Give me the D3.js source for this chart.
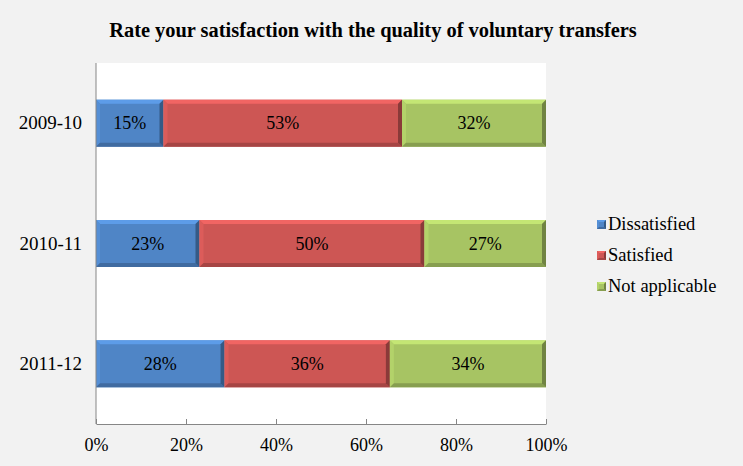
<!DOCTYPE html>
<html lang="en">
<head>
  <meta charset="UTF-8">
  <title>Voluntary transfers</title>
  <script src="https://cdn.jsdelivr.net/npm/d3@7"></script>
  <style>
    body { margin: 0; background: #f2f2f2; }
  </style>
</head>
<body>
  <div id="chart"></div>

  <script>
    const years = ['2009-10', '2010-11', '2011-12'];
    const series = ['Dissatisfied', 'Satisfied', 'Not applicable'];
    const dissatisfied = [15, 23, 28];
    const satisfied = [53, 50, 36];
    const notApplicable = [32, 27, 34];
    const xTicks = [0, 0.2, 0.4, 0.6, 0.8, 1];

    const width = 743,
      height = 466;
    const serif = '"Liberation Serif", "Times New Roman", serif';

    const colors = ['#4f85c6', '#cd5654', '#a7c463'];

    const rows = years.map((y, i) => ({
      year: y,
      'Dissatisfied': dissatisfied[i],
      'Satisfied': satisfied[i],
      'Not applicable': notApplicable[i]
    }));

    const stacked = d3.stack()
      .keys(series)
      .offset(d3.stackOffsetExpand)(rows);

    const svg = d3.select('#chart')
      .append('svg')
        .attr('width', width)
        .attr('height', height)
        .attr('font-family', serif);

    svg.append('rect')
      .attr('width', width)
      .attr('height', height)
      .attr('fill', '#f2f2f2');

    const x = d3.scaleLinear().domain([0, 1]).range([96, 546]);
    const y = d3.scaleBand()
      .domain(years)
      .range([63, 424])
      .paddingInner(0.61)
      .paddingOuter(0.305);

    // plot area
    svg.append('rect')
      .attr('x', x(0))
      .attr('y', 63)
      .attr('width', x(1) - x(0))
      .attr('height', 424 - 63)
      .attr('fill', '#fff');

    // title
    svg.append('text')
      .attr('x', 373)
      .attr('y', 37)
      .attr('text-anchor', 'middle')
      .style('font-family', serif)
      .style('font-size', '20.4px')
      .style('font-weight', 'bold')
      .text('Rate your satisfaction with the quality of voluntary transfers');

    const b = 4; // bevel size

    function bevel(g, x0, y0, w, h, c, bb) {
      const base = d3.color(c);
      g.append('rect')
        .attr('x', x0).attr('y', y0).attr('width', w).attr('height', h)
        .attr('fill', base);
      const x1 = x0 + w, y1 = y0 + h;
      const faces = [
        [[x0, y0], [x1, y0], [x1 - bb, y0 + bb], [x0 + bb, y0 + bb], base.brighter(0.45)],
        [[x0, y0], [x0 + bb, y0 + bb], [x0 + bb, y1 - bb], [x0, y1], base.brighter(0.2)],
        [[x0, y1], [x0 + bb, y1 - bb], [x1 - bb, y1 - bb], [x1, y1], base.darker(0.6)],
        [[x1, y0], [x1, y1], [x1 - bb, y1 - bb], [x1 - bb, y0 + bb], base.darker(1.1)]
      ];
      faces.forEach(f => {
        g.append('path')
          .attr('d', d3.line()(f.slice(0, 4)) + 'Z')
          .attr('fill', f[4]);
      });
    }

    stacked.forEach((s, si) => {
      const g = svg.append('g');
      s.forEach(d => {
        const x0 = x(d[0]), w = x(d[1]) - x(d[0]);
        bevel(g, x0, y(d.data.year), w, y.bandwidth(), colors[si], b);
        g.append('text')
          .attr('x', x0 + w / 2)
          .attr('y', y(d.data.year) + y.bandwidth() / 2)
          .attr('dy', '0.35em')
          .attr('text-anchor', 'middle')
          .style('font-family', serif)
          .style('font-size', '18px')
          .text(d.data[series[si]] + '%');
      });
    });

    // x axis
    const xAxis = svg.append('g')
      .attr('transform', 'translate(0,424)')
      .call(d3.axisBottom(x).tickValues(xTicks).tickFormat(d3.format('.0%')).tickSizeInner(-5).tickSizeOuter(0));
    xAxis.select('.domain').attr('stroke', '#868686');
    xAxis.selectAll('line').attr('stroke', '#868686');
    xAxis.selectAll('text')
      .attr('y', 14)
      .style('font-size', '18px')
      .style('font-family', serif);

    // y axis
    const yAxis = svg.append('g')
      .attr('transform', `translate(${x(0)},0)`)
      .call(d3.axisLeft(y).tickSize(0).tickPadding(14));
    yAxis.select('.domain').attr('stroke', '#868686').attr('d', 'M0,63V424');
    yAxis.selectAll('text')
      .style('font-size', '19px')
      .style('font-family', serif);

    // legend
    const legend = svg.append('g');
    series.forEach((s, i) => {
      const ly = 224 + i * 31;
      bevel(legend, 597, ly - 4, 9, 9, colors[i], 2);
      legend.append('text')
        .attr('x', 608)
        .attr('y', ly)
        .attr('dy', '0.35em')
        .style('font-family', serif)
        .style('font-size', '18.5px')
        .text(s);
    });
  </script>
</body>
</html>
